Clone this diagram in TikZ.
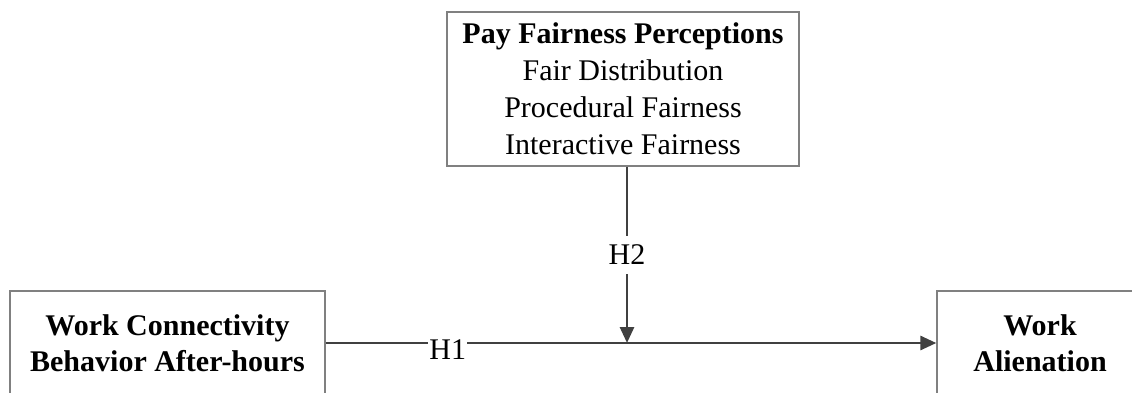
\documentclass[tikz,border=0pt]{standalone}
\usepackage{fontspec}
\setmainfont{Liberation Serif}
\usetikzlibrary{arrows.meta, positioning}
\tikzset{
    factor/.style={
        draw=black!50,
        line width=1.3pt,
        align=center,
        inner sep=2pt,
        font=\fontsize{30}{36}\selectfont\bfseries
    },
    link/.style={
        draw=black!75,
        line width=2.8pt,
        -{Triangle[length=16pt, width=14pt]}
    },
    hyp/.style={
        fill=white,
        inner sep=1pt,
        font=\fontsize{30}{36}\selectfont
    }
}

\begin{document}
\begin{tikzpicture}[x=1pt, y=-1pt]
\useasboundingbox (0,0) rectangle (1132,392);
\node[factor, minimum width=315pt, minimum height=104pt] (wcb) at (167.5,343) {Work Connectivity\\Behavior After-hours};
\node[factor, minimum width=206pt, minimum height=104pt] (wa)  at (1040,343)  {Work\\Alienation};
\node[factor, minimum width=352pt, minimum height=154pt,
      font=\fontsize{30}{37}\selectfont] (pfp) at (623,89)
      {\textbf{Pay Fairness Perceptions}\\Fair Distribution\\Procedural Fairness\\Interactive Fairness};
\coordinate (join) at (627,343);

\draw[link] (wcb) -- node[hyp, pos=0.2, yshift=-7pt] (h1) {H1} (wa);
\draw[link] (pfp.south -| join) -- node[hyp, inner ysep=9pt] (h2) {H2} (join);
\end{tikzpicture}
\end{document}
